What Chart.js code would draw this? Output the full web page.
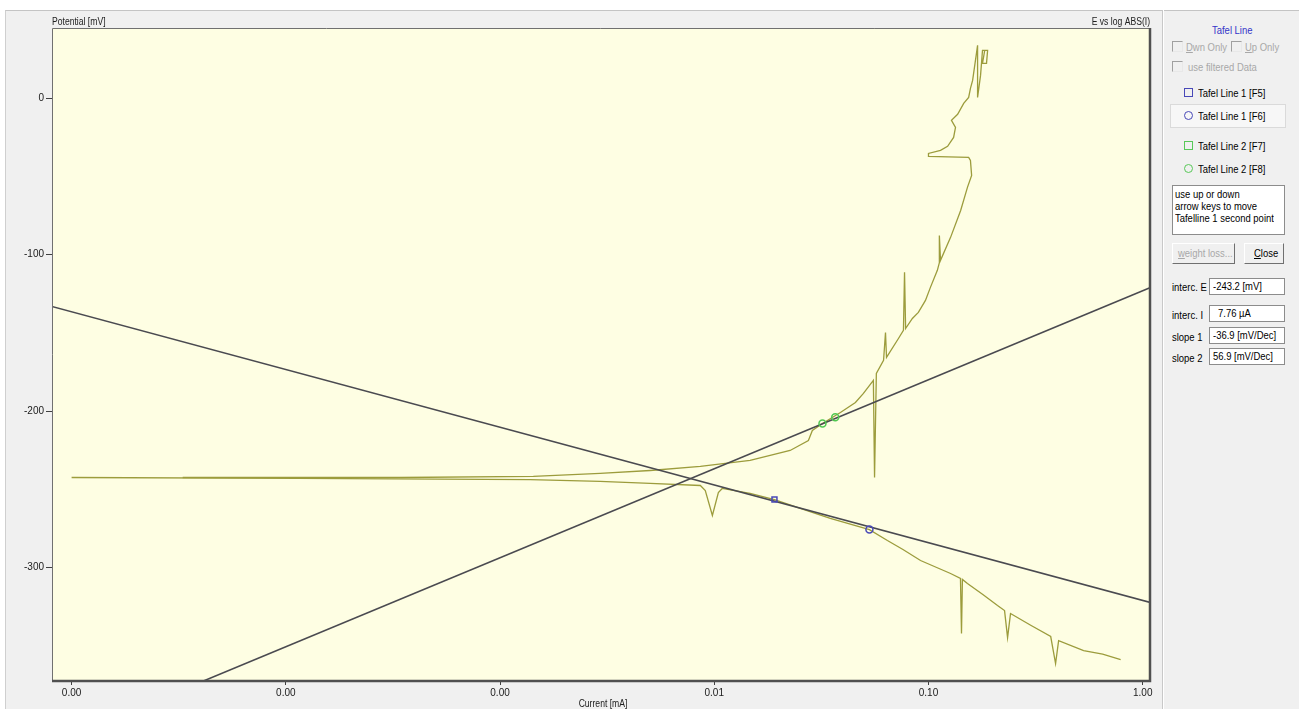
<!DOCTYPE html>
<html>
<head>
<meta charset="utf-8">
<script src="https://cdn.jsdelivr.net/npm/chart.js@4/dist/chart.umd.min.js"></script>
<style>
  body { margin:0; width:1299px; height:709px; overflow:hidden; background:#fff;
         font-family:'Liberation Sans',Arial,sans-serif; font-size:11px; color:#000; }
  #frame { position:absolute; left:5px; top:10px; width:1294px; height:699px; background:#f0f0f0;
           border-top:1px solid #c4c4c4; border-left:1px solid #cfcfcf; box-sizing:border-box; }
  #plot { position:absolute; left:0; top:0; }
  #sep { position:absolute; left:1162px; top:10px; width:1px; height:699px; background:#c8c8c8; border-right:1px solid #fff; }
  .t { position:absolute; white-space:nowrap; line-height:12px; }
  .n { display:inline-block; white-space:nowrap; transform:scaleX(0.86); transform-origin:0 50%; }
  .gray { color:#a8a8a8; }
  .cb { position:absolute; width:9px; height:9px; border-top:1px solid #a0a0a0; border-left:1px solid #a0a0a0;
        border-right:1px solid #e8e8e8; border-bottom:1px solid #e8e8e8; }
  .ico { position:absolute; width:7px; height:7px; border:1.5px solid; }
  .box { position:absolute; background:#fff; border:1px solid #8c8c8c; box-sizing:border-box; white-space:nowrap; overflow:hidden; }
  .btn { position:absolute; background:#f0f0f0; box-sizing:border-box; line-height:18px; white-space:nowrap; overflow:hidden;
         border-top:1px solid #fff; border-left:1px solid #fff; border-right:1px solid #707070; border-bottom:1px solid #707070; }
</style>
</head>
<body>
<div id="frame"></div>
<canvas id="plot" width="1163" height="709"></canvas>
<div id="sep"></div>

<!-- right hand control panel -->
<div class="t" style="left:1212px;top:24px;color:#3535c8;"><span class="n">Tafel Line</span></div>
<div class="cb" style="left:1172px;top:41px;"></div>
<div class="t gray" style="left:1186px;top:41px;"><span class="n"><u>D</u>wn Only</span></div>
<div class="cb" style="left:1231px;top:41px;"></div>
<div class="t gray" style="left:1245px;top:41px;"><span class="n"><u>U</u>p Only</span></div>
<div class="cb" style="left:1172px;top:61px;"></div>
<div class="t gray" style="left:1188px;top:61px;"><span class="n">use filtered Data</span></div>

<div class="ico" style="left:1184px;top:88px;border-color:#4848b8;"></div>
<div class="t" style="left:1198px;top:87px;"><span class="n">Tafel Line 1 [F5]</span></div>
<div style="position:absolute;left:1170px;top:104px;width:114px;height:22px;background:#f7f7f7;border:1px solid #dadada;"></div>
<div class="ico" style="left:1184px;top:111px;border-color:#4848b8;border-radius:50%;"></div>
<div class="t" style="left:1198px;top:110px;"><span class="n">Tafel Line 1 [F6]</span></div>
<div class="ico" style="left:1184px;top:141px;border-color:#58c858;"></div>
<div class="t" style="left:1198px;top:140px;"><span class="n">Tafel Line 2 [F7]</span></div>
<div class="ico" style="left:1184px;top:164px;border-color:#58c858;border-radius:50%;"></div>
<div class="t" style="left:1198px;top:163px;"><span class="n">Tafel Line 2 [F8]</span></div>

<div class="box" style="left:1172px;top:185px;width:113px;height:50px;padding:2px 2px;line-height:12px;">
  <span class="n">use up or down</span><br><span class="n">arrow keys to move</span><br><span class="n">Tafelline 1 second point</span>
</div>

<div class="btn gray" style="left:1172px;top:243px;width:63px;height:21px;padding-left:5px;"><span class="n"><u>w</u>eight loss...</span></div>
<div class="btn" style="left:1244px;top:243px;width:40px;height:21px;padding-left:9px;"><span class="n"><u>C</u>lose</span></div>

<div class="t" style="left:1172px;top:281px;"><span class="n">interc. E</span></div>
<div class="box" style="left:1209px;top:278px;width:76px;height:17px;padding:1px 3px;line-height:13px;"><span class="n">-243.2 [mV]</span></div>
<div class="t" style="left:1172px;top:309px;"><span class="n">interc. I</span></div>
<div class="box" style="left:1209px;top:305px;width:76px;height:17px;padding:1px 8px;line-height:13px;"><span class="n">7.76 µA</span></div>
<div class="t" style="left:1172px;top:331px;"><span class="n">slope 1</span></div>
<div class="box" style="left:1209px;top:327px;width:76px;height:17px;padding:1px 3px;line-height:13px;"><span class="n">-36.9 [mV/Dec]</span></div>
<div class="t" style="left:1172px;top:352px;"><span class="n">slope 2</span></div>
<div class="box" style="left:1209px;top:348px;width:76px;height:17px;padding:1px 3px;line-height:13px;"><span class="n">56.9 [mV/Dec]</span></div>

<script>
// Achsen
const X_MIN = 8.1e-6, X_MAX = 1.07;
const Y_MIN = -372, Y_MAX = 45;
const xTickValues = [0.00001, 0.0001, 0.001, 0.01, 0.1, 1];
const yTickValues = [-300, -200, -100, 0];

// Kathodischer Ast (Strom in mA, Potential in mV)
const cathodicCurrent = [1.00e-5, 1.16e-4, 1.38e-3, 2.93e-3, 5.02e-3, 8.61e-3, 9.08e-3, 9.80e-3, 1.045e-2, 1.089e-2,
  1.47e-2, 1.91e-2, 2.52e-2, 3.48e-2, 5.30e-2, 6.43e-2, 7.6e-2, 9.18e-2, 0.1268, 0.141, 0.1426, 0.144, 0.152,
  0.180, 0.210, 0.2265, 0.234, 0.2415, 0.300, 0.372, 0.392, 0.405, 0.530, 0.650, 0.789];
const cathodicPotential = [-242.5, -243.1, -243.8, -245.0, -246.3, -247.6, -250.8, -266.8, -252.1, -249.5,
  -252.7, -256.6, -262.3, -268.7, -275.8, -282.8, -288.5, -295.6, -303.9, -307.1, -342.3, -307.7, -310.3,
  -317.5, -324.4, -327.6, -344.9, -329.5, -337.0, -344.2, -361.5, -346.8, -353.2, -355.5, -358.9];

// Anodischer Ast
const anodicCurrent = [3.30e-5, 3.41e-4, 1.43e-3, 2.93e-3, 5.02e-3, 8.61e-3, 1.47e-2, 2.26e-2, 2.75e-2, 2.87e-2,
  3.20e-2, 3.88e-2, 4.56e-2, 4.97e-2, 5.53e-2, 5.60e-2, 5.71e-2, 6.17e-2, 6.30e-2, 6.37e-2, 7.24e-2, 7.64e-2,
  7.73e-2, 7.82e-2, 8.41e-2, 8.97e-2, 9.68e-2, 0.1021, 0.110, 0.1125, 0.1124, 0.1138, 0.1268, 0.1413, 0.152,
  0.159, 0.157, 0.154, 0.100, 0.100, 0.1138, 0.1228, 0.131, 0.1337, 0.128, 0.1368, 0.146, 0.154, 0.157, 0.1607,
  0.1695, 0.1695, 0.175, 0.1787, 0.1888, 0.1866, 0.1787, 0.183];
const anodicPotential = [-242.5, -242.5, -241.8, -239.9, -238.0, -235.4, -231.6, -225.2, -218.8, -212.4,
  -207.9, -200.9, -194.5, -188.7, -180.4, -242.5, -175.9, -167.6, -149.7, -165.7, -153.6, -148.4,
  -111.3, -147.2, -140.8, -136.9, -129.2, -120.9, -110.0, -104.9, -87.7, -103.6, -88.9, -71.7, -56.9,
  -49.3, -39.7, -37.7, -37.1, -35.2, -33.3, -30.7, -25.0, -18.6, -14.1, -10.2, -3.2, 0.6, 6.4, 11.5,
  33.9, 0.6, 14.7, 30.7, 30.7, 22.4, 22.4, 30.7];

// Tafelgeraden (Endpunkte)
const tafel1Current = [7.0e-6, 1.2];
const tafel1Potential = [-130.8, -324.0];
const tafel2Current = [3.0e-5, 1.2];
const tafel2Potential = [-380.5, -118.6];

// Markierungspunkte
const tafel1PointCurrent = [1.91e-2, 5.30e-2];
const tafel1PointPotential = [-256.6, -275.8];
const tafel2PointCurrent = [3.20e-2, 3.67e-2];
const tafel2PointPotential = [-207.9, -204.0];

function pairs(xs, ys) {
  return xs.map((x, i) => ({ x: x, y: ys[i] }));
}

const FONT = "'Liberation Sans',Arial,sans-serif";

// schmal gezeichneter Text (Originalschrift ist schmaler)
function narrowText(ctx, text, x, y, align) {
  ctx.save();
  ctx.translate(x, y);
  ctx.scale(0.86, 1);
  ctx.textAlign = align;
  ctx.fillText(text, 0, 0);
  ctx.restore();
}

// Hintergrund, Rahmen und Beschriftungen
const framePlugin = {
  id: 'framePlugin',
  beforeDraw(chart) {
    const { ctx, chartArea: a } = chart;
    ctx.save();
    ctx.fillStyle = '#fefee3';
    ctx.fillRect(a.left, a.top, a.right - a.left, a.bottom - a.top);
    ctx.restore();
  },
  afterDraw(chart) {
    const { ctx, chartArea: a } = chart;
    ctx.save();
    ctx.strokeStyle = '#707070';
    ctx.lineWidth = 1;
    ctx.beginPath();
    ctx.moveTo(a.left + 0.5, a.bottom);
    ctx.lineTo(a.left + 0.5, a.top + 0.5);
    ctx.lineTo(a.right, a.top + 0.5);
    ctx.stroke();
    ctx.strokeStyle = '#505050';
    ctx.lineWidth = 2.5;
    ctx.beginPath();
    ctx.moveTo(a.left, a.bottom + 1);
    ctx.lineTo(a.right + 1, a.bottom + 1);
    ctx.lineTo(a.right + 1, a.top);
    ctx.stroke();

    ctx.fillStyle = '#202020';
    ctx.font = '10px ' + FONT;
    ctx.textBaseline = 'alphabetic';
    narrowText(ctx, 'Potential [mV]', a.left, a.top - 3, 'left');
    narrowText(ctx, 'E vs log ABS(I)', a.right + 1, a.top - 3, 'right');
    narrowText(ctx, 'Current [mA]', 603, 707, 'center');
    ctx.restore();
  }
};

const plotChart = new Chart(document.getElementById('plot'), {
  type: 'scatter',
  data: {
    datasets: [
      {
        label: 'Tafel Line 1 [F5]',
        data: pairs(tafel1PointCurrent.slice(0, 1), tafel1PointPotential.slice(0, 1)),
        pointStyle: 'rect', pointRadius: 3.5, borderColor: '#4848b8', backgroundColor: 'rgba(0,0,0,0)', borderWidth: 1.5
      },
      {
        label: 'Tafel Line 1 [F6]',
        data: pairs(tafel1PointCurrent.slice(1), tafel1PointPotential.slice(1)),
        pointStyle: 'circle', pointRadius: 3.5, borderColor: '#4848b8', backgroundColor: 'rgba(0,0,0,0)', borderWidth: 1.5
      },
      {
        label: 'Tafel Line 2 [F7]',
        data: pairs(tafel2PointCurrent.slice(0, 1), tafel2PointPotential.slice(0, 1)),
        pointStyle: 'circle', pointRadius: 3.5, borderColor: '#50c850', backgroundColor: 'rgba(0,0,0,0)', borderWidth: 1.5
      },
      {
        label: 'Tafel Line 2 [F8]',
        data: pairs(tafel2PointCurrent.slice(1), tafel2PointPotential.slice(1)),
        pointStyle: 'circle', pointRadius: 3.5, borderColor: '#50c850', backgroundColor: 'rgba(0,0,0,0)', borderWidth: 1.5
      },
      {
        label: 'Tafel 1',
        data: pairs(tafel1Current, tafel1Potential),
        showLine: true, pointRadius: 0, borderColor: '#4a4a50', borderWidth: 1.6
      },
      {
        label: 'Tafel 2',
        data: pairs(tafel2Current, tafel2Potential),
        showLine: true, pointRadius: 0, borderColor: '#4a4a50', borderWidth: 1.6
      },
      {
        label: 'anodisch',
        data: pairs(anodicCurrent, anodicPotential),
        showLine: true, pointRadius: 0, borderColor: '#9c9c3c', borderWidth: 1.3
      },
      {
        label: 'kathodisch',
        data: pairs(cathodicCurrent, cathodicPotential),
        showLine: true, pointRadius: 0, borderColor: '#9c9c3c', borderWidth: 1.3
      }
    ]
  },
  options: {
    responsive: false,
    animation: false,
    devicePixelRatio: 1,
    layout: { padding: { top: 28, right: 14, left: 0, bottom: 0 } },
    plugins: { legend: { display: false }, tooltip: { enabled: false } },
    scales: {
      x: {
        type: 'logarithmic',
        min: X_MIN, max: X_MAX,
        afterBuildTicks: s => { s.ticks = xTickValues.map(v => ({ value: v })); },
        afterFit: s => { s.height = 29; },
        grid: { drawOnChartArea: false, drawTicks: true, tickLength: 5, color: '#404040', lineWidth: 1 },
        border: { display: false },
        ticks: { callback: v => Number(v).toFixed(2), color: '#202020', padding: 2, maxRotation: 0,
                 autoSkip: false, font: { family: FONT, size: 10 } }
      },
      y: {
        min: Y_MIN, max: Y_MAX,
        afterBuildTicks: s => { s.ticks = yTickValues.map(v => ({ value: v })); },
        afterFit: s => { s.width = 52; },
        grid: { drawOnChartArea: false, drawTicks: true, tickLength: 6, color: '#404040', lineWidth: 1 },
        border: { display: false },
        ticks: { color: '#202020', padding: 2, font: { family: FONT, size: 10 } }
      }
    }
  },
  plugins: [framePlugin]
});
</script>
</body>
</html>
